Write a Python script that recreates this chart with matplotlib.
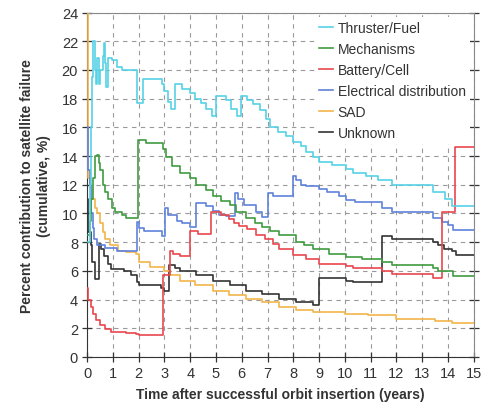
import numpy as np
from matplotlib import pyplot as plt

plt.rcParams['font.family'] = ['Liberation Sans', 'DejaVu Sans']

# step data: each (t, v) holds value v from time t onwards
thr_t = [0.05, 0.1, 0.15, 0.2, 0.24, 0.3, 0.35, 0.4, 0.45, 0.5, 0.6, 0.66, 0.7, 0.75, 0.82,
         0.95, 1.15, 1.35, 1.92, 2.18, 2.9, 3.0, 3.15, 3.27, 3.4, 3.7, 3.98, 4.2, 4.4, 4.63,
         4.85, 5.01, 5.4, 5.6, 5.8, 5.98, 6.2, 6.45, 6.7, 6.95, 7.1, 7.4, 7.7, 7.97, 8.3,
         8.5, 8.75, 9.0, 9.5, 10.04, 10.3, 10.8, 11.3, 11.84, 13.4, 13.9, 14.16, 15.0]
thr_v = [8, 12, 16, 19.5, 22.0, 20.0, 19.0, 20.8, 19.0, 20.0, 21.0, 21.9, 20.5, 18.8, 20.8,
         20.7, 20.2, 20.0, 17.7, 19.4, 19.0, 18.5, 17.8, 17.3, 19.0, 18.7, 18.4, 18.0, 17.7, 17.3,
         16.8, 18.2, 17.9, 17.3, 16.8, 18.2, 17.9, 17.6, 17.2, 16.6, 16.0, 15.7, 15.4, 15.0, 14.7,
         14.3, 13.9, 13.6, 13.4, 13.1, 12.8, 12.6, 12.3, 12.0, 11.5, 11.0, 10.5, 10.5]

mech_t = [0.05, 0.1, 0.15, 0.25, 0.3, 0.4, 0.45, 0.5, 0.6, 0.7, 0.8, 0.95, 1.1, 1.34, 1.5,
          1.98, 2.3, 2.95, 3.08, 3.3, 3.6, 3.98, 4.24, 4.6, 4.88, 5.2, 5.53, 5.79, 6.17, 6.5,
          6.8, 7.1, 7.46, 8.1, 8.4, 8.75, 9.4, 10.04, 10.68, 11.45, 11.84, 13.4, 13.6, 14.2, 15.0]
mech_v = [8.5, 9.5, 11, 12.5, 14.0, 14.1, 13.5, 13.0, 12.0, 11.5, 11.0, 10.4, 10.1, 9.9, 9.7,
          15.1, 14.9, 14.5, 13.9, 13.3, 12.8, 12.45, 12.0, 11.6, 11.2, 10.9, 10.6, 10.1, 9.65, 9.3,
          9.07, 8.8, 8.5, 8.0, 7.8, 7.55, 7.2, 6.97, 6.85, 6.6, 6.4, 6.2, 6.0, 5.65, 5.65]

batt_t = [0.0, 0.05, 0.15, 0.25, 0.35, 0.5, 0.7, 0.92, 1.5, 1.9, 2.0, 2.95, 3.2, 3.35, 3.6,
          3.98, 4.3, 4.82, 5.2, 5.5, 5.7, 5.9, 6.2, 6.56, 6.9, 7.2, 7.46, 7.97, 8.5, 9.0,
          10.04, 10.3, 11.45, 11.84, 13.4, 13.78, 14.25, 15.0]
batt_v = [4.8, 4.0, 3.5, 3.0, 2.6, 2.2, 1.95, 1.75, 1.7, 1.6, 1.5, 5.7, 7.4, 7.2, 7.0,
          8.8, 8.6, 10.1, 9.9, 9.6, 9.3, 9.1, 8.9, 8.5, 8.2, 7.9, 7.55, 7.1, 6.8, 6.5,
          6.35, 6.2, 6.0, 5.8, 5.5, 10.1, 14.66, 14.66]

elec_t = [0.0, 0.05, 0.1, 0.15, 0.22, 0.27, 0.4, 0.7, 1.17, 1.93, 2.0, 2.2, 2.9, 3.04, 3.15,
          3.47, 3.7, 3.98, 4.24, 4.6, 4.88, 5.1, 5.4, 5.72, 5.85, 6.1, 6.56, 6.8, 7.0, 7.2,
          7.97, 8.1, 8.3, 8.5, 9.0, 9.3, 9.78, 10.04, 10.4, 11.45, 11.84, 13.4, 13.77, 14.0,
          14.2, 15.0]
elec_v = [16.0, 13, 12, 10.0, 9.0, 8.25, 7.8, 7.6, 7.4, 9.4, 9.0, 8.8, 8.4, 10.35, 9.9,
          9.5, 9.3, 9.07, 10.7, 10.5, 10.2, 9.9, 9.8, 11.4, 11.0, 10.6, 10.1, 9.77, 11.4, 11.2,
          12.6, 12.3, 12.0, 11.9, 11.7, 11.5, 11.2, 10.95, 10.8, 10.4, 10.1, 9.65, 9.4, 9.2,
          8.85, 8.85]

sad_t = [0.0, 0.03, 0.1, 0.2, 0.3, 0.4, 0.5, 0.6, 0.7, 0.9, 1.2, 1.5, 1.88, 2.0, 2.46,
         2.98, 3.23, 3.62, 4.2, 4.88, 5.5, 6.17, 6.8, 7.46, 8.1, 8.75, 10.0, 10.9, 12.0, 13.5,
         14.16, 15.0]
sad_v = [24.5, 12.5, 11.8, 11.0, 10.4, 10.0, 9.3, 8.7, 8.2, 7.8, 7.4, 7.3, 7.2, 6.6, 6.3,
         6.0, 5.7, 5.3, 5.0, 4.6, 4.35, 4.06, 3.8, 3.5, 3.3, 3.1, 3.0, 2.9, 2.65, 2.5,
         2.38, 2.33]

unk_t = [0.0, 0.05, 0.15, 0.2, 0.3, 0.45, 0.55, 0.66, 0.8, 0.92, 1.43, 1.69, 1.94, 2.0, 2.85,
         3.0, 3.17, 3.4, 3.6, 4.24, 4.88, 5.53, 6.17, 6.8, 7.46, 8.1, 8.75, 9.0, 10.04, 10.3,
         11.45, 11.84, 13.4, 13.6, 13.84, 14.16, 14.3, 15.0]
unk_v = [11, 8.7, 7.8, 6.6, 5.45, 7.9, 7.5, 7.0, 6.5, 6.15, 6.0, 5.7, 5.2, 5.0, 4.8,
         4.6, 6.4, 6.2, 6.0, 5.7, 5.3, 5.0, 4.6, 4.4, 4.06, 3.8, 3.6, 5.5, 5.3, 5.2,
         8.4, 8.2, 8.0, 7.8, 7.55, 7.4, 7.1, 7.1]

series = [
    ('Thruster/Fuel', thr_t, thr_v, '#56d2e6'),
    ('Mechanisms', mech_t, mech_v, '#3f9b3f'),
    ('Battery/Cell', batt_t, batt_v, '#e8474d'),
    ('Electrical distribution', elec_t, elec_v, '#5f82dc'),
    ('SAD', sad_t, sad_v, '#f2b54a'),
    ('Unknown', unk_t, unk_v, '#333333'),
]

fig = plt.figure(figsize=(4.89, 4.10), dpi=100)
ax = fig.add_axes([0.178, 0.127, 0.791, 0.840])

# draw from the back so the legend order stays as listed
for name, t, v, c in series[::-1]:
    ax.plot(t, v, drawstyle='steps-post', color=c, lw=1.2, label=name, zorder=3)

ax.set_xlim(0, 15)
ax.set_ylim(0, 24)
ax.set_xticks(range(0, 16))
ax.set_yticks(range(0, 25, 2))
ax.grid(True, color='#9a9a9a', linestyle=(0, (4, 4)), lw=0.8)
ax.set_axisbelow(True)
ax.tick_params(axis='both', direction='inout', length=7, width=0.9,
               colors='#333333', labelsize=10.5, pad=3)
ax.tick_params(axis='y', right=True, labelright=False)
for s in ['left', 'bottom']:
    ax.spines[s].set_color('#333333')
for s in ['top', 'right']:
    ax.spines[s].set_color('#888888')

ax.set_xlabel('Time after successful orbit insertion (years)', fontsize=10,
              fontweight='bold', color='#333333', labelpad=5)
ax.set_ylabel('Percent contribution to satellite failure\n(cumulative, %)', fontsize=10,
              fontweight='bold', color='#333333', labelpad=8)

h, l = ax.get_legend_handles_labels()
leg = ax.legend(h[::-1], l[::-1], loc='upper right', fontsize=10, handlelength=1.0,
                handletextpad=0.3, labelspacing=0.5, borderaxespad=0.3, borderpad=0.3,
                framealpha=1, edgecolor='none', fancybox=False)
leg.set_zorder(2)  # hide the grid behind it, keep the lines on top
for txt in leg.get_texts():
    txt.set_color('#333333')

fig.savefig('out.png', dpi=100)
